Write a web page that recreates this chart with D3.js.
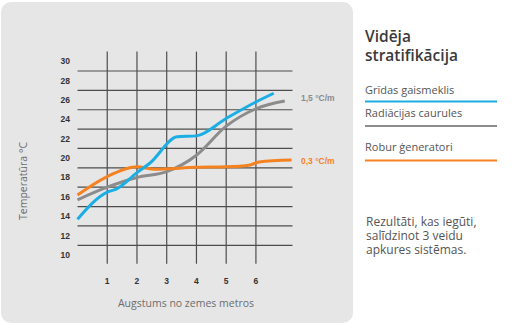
<!DOCTYPE html>
<html><head><meta charset="utf-8">
<script src="https://cdn.jsdelivr.net/npm/d3@7"></script>
<style>html,body{margin:0;padding:0;background:#fff;}svg{display:block;}</style>
</head><body>
<script>
const xTicks = [1,2,3,4,5,6];
const yTicks = [10,12,14,16,18,20,22,24,26,28,30];
const yGrid = [11,13,15,17,19,21,23,25,27,29];
const blueX = [0,1,1.3,2,2.44,3.35,4,5,6,6.6];
const blueY = [13.7,16.5,16.8,18.5,19.5,22.2,22.3,24.1,25.8,26.7];
const grayX = [0,1,2,3,4,5,6,6.97];
const grayY = [15.7,17.0,18.0,18.6,20.3,23.3,25.1,25.9];
const orangeX = [0,1,2,2.6,3,4,5,5.8,6.1,7.2];
const orangeY = [16.2,18.1,19.1,18.85,18.9,19.05,19.1,19.3,19.6,19.8];
const legendNames = ["Grīdas gaismeklis","Radiācijas caurules","Robur ģeneratori"];
const colors = ["#1aaee5","#8c8c8c","#f58220"];
const slopeLabels = ["1,5 °C/m","0,3 °C/m"];
const titleLines = ["Vidēja","stratifikācija"];
const noteLines = ["Rezultāti, kas iegūti,","salīdzinot 3 veidu","apkures sistēmas."];

const svg = d3.select("body").append("svg").attr("width",519).attr("height",323);
svg.append("rect").attr("x",1).attr("y",2).attr("width",352).attr("height",321).attr("rx",10).attr("fill","#e6e6e7");

const x = d3.scaleLinear().domain([0,7.23]).range([77.5,292.5]);
const y = d3.scaleLinear().domain([10,30]).range([255,61.3]);

const g = svg.append("g");
g.selectAll(".hg").data(yGrid).join("line")
  .attr("x1",x(0)).attr("x2",x(7.23)).attr("y1",d=>y(d)).attr("y2",d=>y(d))
  .attr("stroke","#4d4d4d").attr("stroke-width",1.2);
g.selectAll(".vg").data(xTicks).join("line")
  .attr("x1",d=>x(d)).attr("x2",d=>x(d)).attr("y1",y(31)).attr("y2",y(9.1))
  .attr("stroke","#4d4d4d").attr("stroke-width",1.2);

g.selectAll(".yt").data(yTicks).join("text")
  .attr("x",70).attr("y",d=>y(d)).attr("dy","0.35em").attr("text-anchor","end")
  .attr("font-family","Liberation Sans, Arial, sans-serif").attr("font-size",8.5).attr("font-weight","bold")
  .attr("fill","#333").text(d=>d);
g.selectAll(".xt").data(xTicks).join("text")
  .attr("x",d=>x(d)).attr("y",281).attr("dy","0.35em").attr("text-anchor","middle")
  .attr("font-family","Liberation Sans, Arial, sans-serif").attr("font-size",8.5).attr("font-weight","bold")
  .attr("fill","#333").text(d=>d);

svg.append("text").attr("transform","translate(23,181) rotate(-90)").attr("text-anchor","middle")
  .attr("dy","0.35em").attr("font-family","Open Sans, sans-serif").attr("font-size",10.5).attr("fill","#6d6d6d")
  .text("Temperatūra °C");
svg.append("text").attr("x",186).attr("y",303).attr("dy","0.35em").attr("text-anchor","middle")
  .attr("font-family","Open Sans, sans-serif").attr("font-size",10.5).attr("fill","#6d6d6d")
  .text("Augstums no zemes metros");

const line = d3.line().x(d=>x(d[0])).y(d=>y(d[1])).curve(d3.curveMonotoneX);
const series = [d3.zip(blueX,blueY), d3.zip(grayX,grayY), d3.zip(orangeX,orangeY)];
[1,2,0].forEach(i=>{
  g.append("path").attr("d",line(series[i])).attr("fill","none")
   .attr("stroke",colors[i]).attr("stroke-width",3).attr("stroke-linejoin","round").attr("stroke-linecap","butt");
});

svg.append("text").attr("x",301).attr("y",98.5).attr("dy","0.35em")
  .attr("font-family","Liberation Sans, Arial, sans-serif").attr("font-size",8.5).attr("font-weight","bold")
  .attr("fill","#8c8c8c").text(slopeLabels[0]);
svg.append("text").attr("x",301).attr("y",161).attr("dy","0.35em")
  .attr("font-family","Liberation Sans, Arial, sans-serif").attr("font-size",8.5).attr("font-weight","bold")
  .attr("fill","#f58220").text(slopeLabels[1]);

const lg = svg.append("g").attr("font-family","Open Sans, sans-serif");
const title = lg.append("text").attr("x",365).attr("y",42).attr("font-size",15.5).attr("font-weight",600).attr("fill","#3a3a3a");
titleLines.forEach((t,i)=>title.append("tspan").attr("x",365).attr("dy",i?19:0).text(t));
const lyText = [90.5,113,147.5];
const lyLine = [101.5,126,160.5];
legendNames.forEach((n,i)=>{
  lg.append("text").attr("x",365).attr("y",lyText[i]).attr("dy","0.35em").attr("font-size",11).attr("fill","#555").text(n);
  lg.append("line").attr("x1",365).attr("x2",497).attr("y1",lyLine[i]).attr("y2",lyLine[i])
    .attr("stroke",colors[i]).attr("stroke-width",2);
});
const note = lg.append("text").attr("x",366).attr("y",225.8).attr("font-size",12).attr("fill","#555");
noteLines.forEach((t,i)=>note.append("tspan").attr("x",366).attr("dy",i?14.3:0).text(t));
</script>
</body></html>
